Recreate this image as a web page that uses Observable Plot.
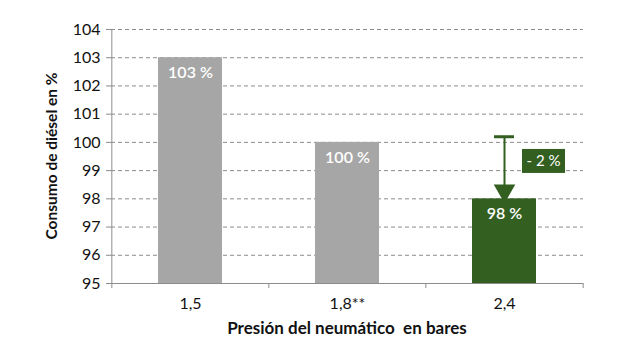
<!DOCTYPE html>
<html>
<head>
<meta charset="utf-8">
<script src="https://cdn.jsdelivr.net/npm/d3@7"></script>
<script src="https://cdn.jsdelivr.net/npm/@observablehq/plot@0.6"></script>
<style>
  html, body { margin: 0; padding: 0; background: #fff; }
  #chart { width: 640px; height: 360px; }
</style>
</head>
<body>
<div id="chart"></div>
<script>
const pressures = ["1,5", "1,8**", "2,4"];
const consumption = [103, 100, 98];
const barLabels = ["103 %", "100 %", "98 %"];
const barColors = ["#a6a6a6", "#a6a6a6", "#336021"];
const yTicks = [95, 96, 97, 98, 99, 100, 101, 102, 103, 104];
const arrowFrom = 100.2;
const arrowTo = 98;
const deltaLabel = "- 2 %";
const deltaBoxLow = 98.9;
const deltaBoxHigh = 99.75;

const data = pressures.map((p, i) => ({p, v: consumption[i], label: barLabels[i], color: barColors[i]}));
const target = pressures[2];

const W = 640, H = 360, ML = 111, MR = 57, MT = 29, MB = 77;
const half = (W - ML - MR) / pressures.length / 2;
const font = "Lato, 'Open Sans', sans-serif";
const tickEnd = 95 - 5 / ((H - MT - MB) / 9);

const plot = Plot.plot({
  width: W, height: H,
  marginLeft: ML, marginRight: MR, marginTop: MT, marginBottom: MB,
  style: {fontFamily: font, fontSize: "16px", color: "#111", background: "#fff"},
  x: {domain: pressures, paddingInner: 0.59, paddingOuter: 0.295, label: null},
  y: {domain: [95, 104], label: null},
  marks: [
    Plot.ruleY(yTicks.filter(d => d > 95), {y: d => d, stroke: "#8c8c8c", strokeDasharray: "4,3", strokeWidth: 1}),
    Plot.barY(data, {x: "p", y1: 95, y2: "v", fill: "color"}),
    Plot.text(data, {x: "p", y: "v", text: "label", dy: 15, fill: "white", fontSize: 16, fontWeight: 600}),
    // axes lines
    Plot.ruleY([95], {stroke: "#8c8c8c", strokeWidth: 1}),
    Plot.ruleX([pressures[0]], {x: d => d, y1: 95, y2: 104, dx: -half, stroke: "#8c8c8c", strokeWidth: 1}),
    // x category boundary ticks
    Plot.ruleX(pressures, {x: d => d, dx: -half, y1: 95, y2: tickEnd, stroke: "#8c8c8c"}),
    Plot.ruleX([pressures[2]], {x: d => d, dx: half, y1: 95, y2: tickEnd, stroke: "#8c8c8c"}),
    Plot.axisX({tickSize: 0, tickPadding: 14, fontSize: 16, fill: "#111"}),
    Plot.axisY({ticks: yTicks, tickSize: 5, tickPadding: 6, fontSize: 16, stroke: "#8c8c8c", fill: "#111"}),
    // arrow annotation
    Plot.ruleX([target], {x: d => d, y1: arrowFrom, y2: arrowTo + 0.4, stroke: "#336021", strokeWidth: 2}),
    Plot.tickY([target], {x: d => d, y: arrowFrom, stroke: "#336021", strokeWidth: 3, insetLeft: 22, insetRight: 22}),
    Plot.dot([target], {x: d => d, y: arrowTo, dy: -8, symbol: "triangle", rotate: 180, r: 8, fill: "#336021", stroke: "none"}),
    Plot.barY([target], {x: d => d, y1: deltaBoxLow, y2: deltaBoxHigh, dx: 50, insetRight: 21, fill: "#336021"}),
    Plot.text([target], {x: d => d, y: (deltaBoxLow + deltaBoxHigh) / 2, dx: 39, text: () => deltaLabel, fill: "white", fontSize: 15})
  ]
});

const svg = d3.select(plot);

// axis titles
svg.append("text")
  .attr("x", ML + (W - ML - MR) / 2)
  .attr("y", 334)
  .attr("text-anchor", "middle")
  .attr("font-family", font)
  .attr("font-size", 17)
  .attr("font-weight", "bold")
  .attr("fill", "#111")
  .text("Presión del neumático  en bares");
svg.append("text")
  .attr("transform", `translate(57, ${MT + (H - MT - MB) / 2}) rotate(-90)`)
  .attr("text-anchor", "middle")
  .attr("font-family", font)
  .attr("font-size", 15.5)
  .attr("font-weight", "bold")
  .attr("fill", "#111")
  .text("Consumo de diésel en %");

document.getElementById("chart").appendChild(plot);
</script>
</body>
</html>
